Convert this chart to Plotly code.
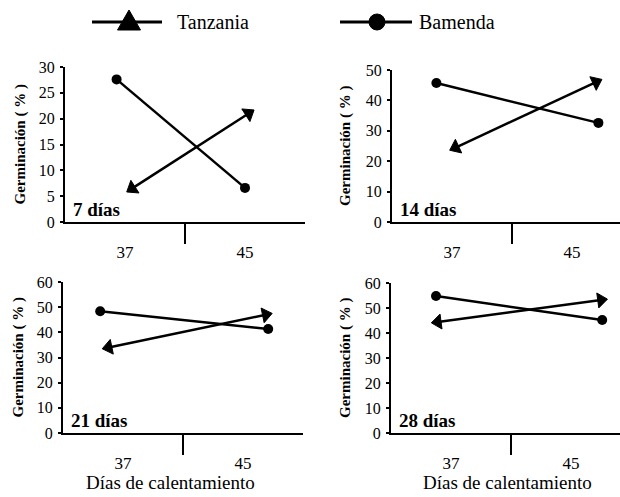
import plotly.graph_objects as go

# ---------------- data ----------------
categories = ["37", "45"]
panel_labels = ["7 días", "14 días", "21 días", "28 días"]
tanzania = [[6.5, 21.0], [24.5, 46.0], [34.0, 47.0], [44.4, 53.2]]
bamenda = [[27.6, 6.6], [45.7, 32.6], [48.4, 41.3], [54.8, 45.2]]
y_tick_values = [
    [0, 5, 10, 15, 20, 25, 30],
    [0, 10, 20, 30, 40, 50],
    [0, 10, 20, 30, 40, 50, 60],
    [0, 10, 20, 30, 40, 50, 60],
]
series_names = ["Tanzania", "Bamenda"]
x_title = "Días de calentamiento"
y_title = "Germinación ( % )"

# ---------------- layout constants ----------------
W, H = 620, 497
FONT = "Liberation Serif"
# pixel boxes of each panel: (x_left, x_divider, y_top, y_bottom)
boxes = [(65, 185, 67, 222), (392, 512, 70, 222), (63, 183, 282, 433), (391, 511, 283, 433)]
ytitle_x = [20, 345, 18, 345]
# horizontal placement of the marks inside each panel (axis units, divider at 1)
bam_pos = [[0.43, 1.50], [0.37, 1.72], [0.31, 1.71], [0.375, 1.76]]
tan_pos = [[0.56, 1.53], [0.53, 1.70], [0.38, 1.69], [0.39, 1.75]]

fig = go.Figure()
annotations = []
shapes = []

for i in range(4):
    xl, xd, yt, yb = boxes[i]
    half = xd - xl
    xr = min(xl + 2 * half, W)
    xmax = (xr - xl) / half
    ax = "" if i == 0 else str(i + 1)
    xa, ya = "x" + ax, "y" + ax
    ymax = y_tick_values[i][-1]

    fig.update_layout(**{
        "xaxis" + ax: dict(
            domain=[xl / W, xr / W], range=[0, xmax], anchor=ya, automargin=False,
            showline=True, linecolor="#000000", linewidth=2, showgrid=False, zeroline=False,
            tickvals=[0.5, 1.5], ticktext=categories, ticks="", ticklabelstandoff=14,
            tickfont=dict(size=17, color="#000000"), fixedrange=True,
        ),
        "yaxis" + ax: dict(
            domain=[(H - yb) / H, (H - yt) / H], range=[0, ymax], anchor=xa, automargin=False,
            showline=True, linecolor="#000000", linewidth=2, showgrid=False, zeroline=False,
            tickvals=y_tick_values[i], ticks="outside", ticklen=3, tickwidth=2,
            tickcolor="#000000", ticklabelstandoff=2,
            tickfont=dict(size=16, color="#000000"),
            fixedrange=True,
        ),
    })

    # Bamenda: line with circles
    fig.add_trace(go.Scatter(
        x=bam_pos[i], y=bamenda[i], xaxis=xa, yaxis=ya, mode="lines+markers",
        line=dict(color="#000000", width=2.5),
        marker=dict(symbol="circle", size=10, color="#000000"),
        name=series_names[1], showlegend=False, hoverinfo="skip",
    ))
    # Tanzania: line with arrow heads at both ends
    fig.add_trace(go.Scatter(
        x=tan_pos[i], y=tanzania[i], xaxis=xa, yaxis=ya, mode="lines+markers",
        line=dict(color="#000000", width=2.5),
        marker=dict(symbol="triangle-up", size=[0, 13], color="#000000", opacity=1,
                    angleref="previous", line=dict(color="#000000", width=1)),
        name=series_names[0], showlegend=False, hoverinfo="skip",
    ))
    fig.add_trace(go.Scatter(
        x=tan_pos[i][::-1], y=tanzania[i][::-1], xaxis=xa, yaxis=ya, mode="markers",
        marker=dict(symbol="triangle-up", size=[0, 13], color="#000000", opacity=1,
                    angleref="previous", line=dict(color="#000000", width=1)),
        name=series_names[0], showlegend=False, hoverinfo="skip",
    ))

    # divider tick below the x axis
    shapes.append(dict(type="line", xref=xa, yref="paper", x0=1, x1=1,
                       ysizemode="pixel", yanchor=(H - yb) / H, y0=0, y1=-22,
                       line=dict(color="#000000", width=2)))
    # panel label
    annotations.append(dict(text="<b>" + panel_labels[i] + "</b>", xref=xa + " domain", yref=ya + " domain",
                            x=0, y=0, xanchor="left", yanchor="bottom", xshift=6, yshift=0,
                            showarrow=False, font=dict(size=19)))
    # y title
    annotations.append(dict(text="<b>" + y_title + "</b>", xref="paper", yref="paper",
                            x=ytitle_x[i] / W, y=(H - (yt + yb) / 2) / H, textangle=-90,
                            xanchor="center", yanchor="middle", showarrow=False,
                            font=dict(size=15)))

# x titles under the bottom panels
for xc in (170, 507):
    annotations.append(dict(text=x_title, xref="paper", yref="paper", x=xc / W, y=(H - 482) / H,
                            xanchor="center", yanchor="middle", showarrow=False,
                            font=dict(size=19)))

# custom legend at the top
ly = (H - 22) / H
shapes.append(dict(type="line", xref="paper", yref="paper", x0=92 / W, x1=162 / W, y0=ly, y1=ly,
                   line=dict(color="#000000", width=3)))
shapes.append(dict(type="path", xref="paper", yref="paper", xsizemode="pixel", ysizemode="pixel",
                   xanchor=129 / W, yanchor=ly, path="M-11.5,-8 L11.5,-8 L0,12 Z",
                   fillcolor="#000000", line=dict(color="#000000", width=1)))
shapes.append(dict(type="line", xref="paper", yref="paper", x0=340 / W, x1=412 / W, y0=ly, y1=ly,
                   line=dict(color="#000000", width=3)))
shapes.append(dict(type="circle", xref="paper", yref="paper", xsizemode="pixel", ysizemode="pixel",
                   xanchor=377 / W, yanchor=ly, x0=-8, x1=8, y0=-8, y1=8,
                   fillcolor="#000000", line=dict(color="#000000", width=1)))
annotations.append(dict(text=series_names[0], xref="paper", yref="paper", x=175 / W, y=ly,
                        xanchor="left", yanchor="middle", showarrow=False, font=dict(size=20)))
annotations.append(dict(text=series_names[1], xref="paper", yref="paper", x=417 / W, y=ly,
                        xanchor="left", yanchor="middle", showarrow=False, font=dict(size=20)))

fig.update_layout(
    width=W, height=H, margin=dict(l=0, r=0, t=0, b=0, autoexpand=False),
    paper_bgcolor="white", plot_bgcolor="white",
    shapes=shapes, annotations=annotations, showlegend=False,
    font=dict(family=FONT, color="#000000"),
)

fig.write_html("out.html", config={"displayModeBar": False, "staticPlot": True},
               post_script="document.body.style.margin='0px';")
